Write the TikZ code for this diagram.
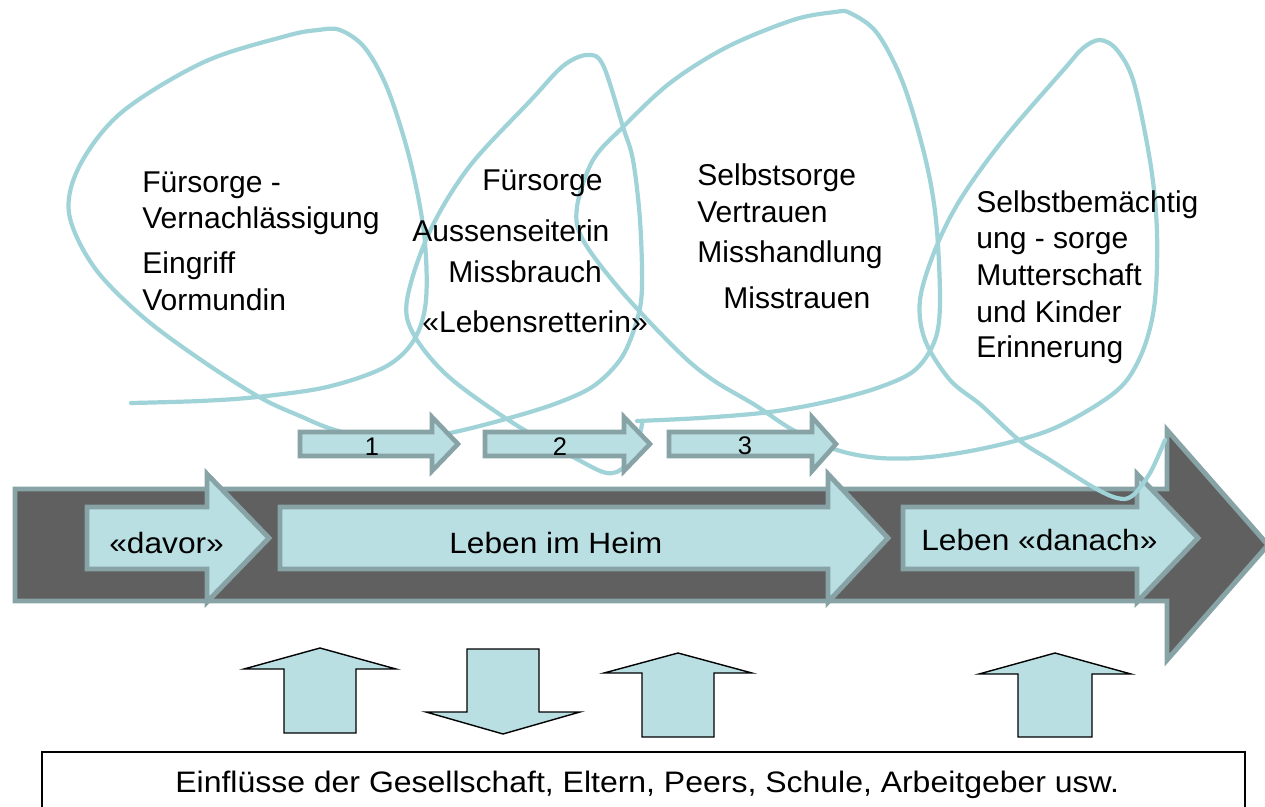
\documentclass[tikz,border=0pt]{standalone}
\usepackage{fontspec}
\setmainfont{Liberation Sans}
\newfontfamily\widefont[FakeStretch=1.08]{Liberation Sans}
\definecolor{heimfill}{HTML}{B9DFE3}
\definecolor{heimedge}{HTML}{88A3A6}
\definecolor{heimdark}{HTML}{606060}
\definecolor{loopline}{HTML}{9FD3D8}
\newcommand{\rblock}[7]{%
  \draw[#1] (#2,#5-#6) -- (#3,#5-#6) -- (#3,#5-#7) -- (#4,#5)
    -- (#3,#5+#7) -- (#3,#5+#6) -- (#2,#5+#6) -- cycle;
}
\newcommand{\vblock}[7]{%
  \draw[#1] (#2-#3,#5) -- (#2-#3,#6) -- (#2-#4,#6) -- (#2,#7)
    -- (#2+#4,#6) -- (#2+#3,#6) -- (#2+#3,#5) -- cycle;
}
\begin{document}
\begin{tikzpicture}[x=0.02cm,y=-0.02cm,
    every node/.style={font=\fontsize{17.1}{20}\selectfont,inner sep=0pt},
    label/.style={anchor=base west,font=\widefont\fontsize{16.7}{20}\selectfont},
    band/.style={fill=heimdark,draw=heimedge,line width=2.8pt},
    phase/.style={fill=heimfill,draw=heimedge,line width=2.8pt},
    stepbox/.style={fill=heimfill,draw=heimedge,line width=2.6pt},
    push/.style={fill=heimfill,draw=black,line width=0.8pt},
    curl/.style={draw=loopline,line width=2.4pt,line cap=round}]
    \useasboundingbox (0,0) rectangle (1265,806);
    \clip (0,0) rectangle (1265,806);

    \rblock{band}{15}{1167}{1268}{545}{56}{115}
    \rblock{phase}{87}{207}{269}{538}{31}{64}
    \rblock{phase}{280}{828}{888}{538}{31}{64}
    \rblock{phase}{903}{1137}{1198}{538}{31}{64}

    \draw[curl] plot[smooth,tension=0.55] coordinates {(131,403) (200,401) (257,397) (327,387)
      (385,367) (414,340) (426,300) (424,233) (410,160) (388,90) (365,48) (340,30) (318,30)
      (286,36) (204,62) (122,112) (80,165) (69,213) (94,267) (143,317) (204,362) (261,398)
      (300,416) (335,430) (390,442) (450,433) (513,417) (560,402) (595,385) (622,357)
      (637,320) (642,287) (640,220) (633,160) (623,127) (603,65) (587,55) (563,66) (531,100)
      (469,167) (429,233) (407,300) (414,335) (449,377) (513,423) (575,458) (607,473)
      (625,466) (638,440) (642,424)};
    \draw[curl] plot[smooth,tension=0.55] coordinates {(637,421) (700,418) (770,412) (830,401)
      (880,387) (915,370) (935,340) (940,300) (936,220) (925,157) (903,83) (877,33)
      (850,13) (835,12) (793,20) (727,47) (670,83) (623,127) (593,160) (577,207) (583,240)
      (623,293) (680,353) (713,380) (755,405) (793,430) (837,450) (880,458) (930,457)
      (990,447) (1050,430) (1100,403) (1127,380) (1145,345) (1155,300) (1157,233)
      (1151,167) (1134,83) (1117,50) (1100,40) (1083,48) (1066,67) (1003,140) (960,200)
      (935,250) (920,300) (925,340) (950,380) (981,405) (1019,440) (1050,460) (1093,487)
      (1117,498) (1132,496) (1150,473) (1165,440)};

    \rblock{stepbox}{300}{432}{458}{444}{12}{27}
    \rblock{stepbox}{485}{624}{650}{444}{12}{27}
    \rblock{stepbox}{669}{812}{836}{444}{12}{27}

    \vblock{push}{320}{36}{76}{733}{669}{648}
    \vblock{push}{503}{36}{77}{649}{712}{734}
    \vblock{push}{678}{36}{74}{737}{673}{653}
    \vblock{push}{1055}{37}{76}{737}{674}{653}

    \draw[line width=0.9pt] (42,752) rectangle (1245,830);

    \node[label] (davor) at (109,553) {«davor»};
    \node[label] (heim) at (449,553) {Leben im Heim};
    \node[label] (danach) at (921,550) {Leben «danach»};
    \node[anchor=base,font=\fontsize{14.5}{17}\selectfont] (s1) at (372,455) {1};
    \node[anchor=base,font=\fontsize{14.5}{17}\selectfont] (s2) at (560,455) {2};
    \node[anchor=base,font=\fontsize{14.5}{17}\selectfont] (s3) at (745,454) {3};

    \node[anchor=base west] (fa) at (142,192) {Fürsorge -};
    \node[anchor=base west] (fb) at (142,228) {Vernachlässigung};
    \node[anchor=base west] (fc) at (142,273) {Eingriff};
    \node[anchor=base west] (fd) at (142,310) {Vormundin};
    \node[anchor=base west] (ha) at (482,190) {Fürsorge};
    \node[anchor=base west] (hb) at (412,241) {Aussenseiterin};
    \node[anchor=base west] (hc) at (448,282) {Missbrauch};
    \node[anchor=base west] (hd) at (422,332) {«Lebensretterin»};
    \node[anchor=base west] (sa) at (697,185) {Selbstsorge};
    \node[anchor=base west] (sb) at (697,222) {Vertrauen};
    \node[anchor=base west] (sc) at (697,262) {Misshandlung};
    \node[anchor=base west] (sd) at (723,308) {Misstrauen};
    \node[anchor=base west] (na) at (976,212) {Selbstbemächtig};
    \node[anchor=base west] (nb) at (976,248) {ung - sorge};
    \node[anchor=base west] (nc) at (976,285) {Mutterschaft};
    \node[anchor=base west] (nd) at (976,322) {und Kinder};
    \node[anchor=base west] (ne) at (976,357) {Erinnerung};

    \node[label,font=\widefont\fontsize{16.85}{20}\selectfont] (einfl) at (175,792)
      {Einflüsse der Gesellschaft, Eltern, Peers, Schule, Arbeitgeber usw.};
\end{tikzpicture}
\end{document}
